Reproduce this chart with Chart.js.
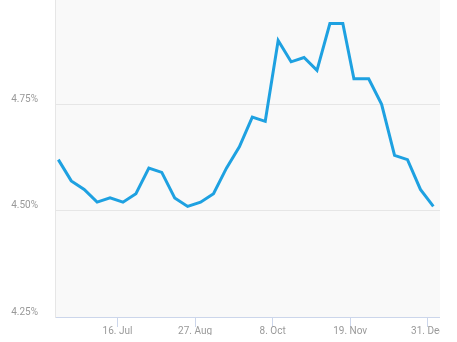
<!DOCTYPE html>
<html lang="en">
<head>
    <meta charset="UTF-8">
    <title>30-Year Fixed Rate 2018</title>
    <script src="https://cdn.jsdelivr.net/npm/chart.js"></script>
    <style>
        html, body {
            margin: 0;
            padding: 0;
            background: #fff;
        }
        #wrap {
            position: relative;
            width: 440px;
            height: 342px;
            overflow: hidden;
        }
        #rateChart {
            position: absolute;
            left: 0;
            top: -12px;
        }
    </style>
</head>
<body>
    <div id="wrap">
        <canvas id="rateChart" width="480" height="360"></canvas>
    </div>
    <script>
        // weekly rates, one per survey date
        const weeks = [
            '2018-06-14', '2018-06-21', '2018-06-28', '2018-07-05', '2018-07-12',
            '2018-07-19', '2018-07-26', '2018-08-02', '2018-08-09', '2018-08-16',
            '2018-08-23', '2018-08-30', '2018-09-06', '2018-09-13', '2018-09-20',
            '2018-09-27', '2018-10-04', '2018-10-11', '2018-10-18', '2018-10-25',
            '2018-11-01', '2018-11-08', '2018-11-15', '2018-11-21', '2018-11-29',
            '2018-12-06', '2018-12-13', '2018-12-20', '2018-12-27', '2019-01-03'
        ];
        const rates = [
            4.62, 4.57, 4.55, 4.52, 4.53,
            4.52, 4.54, 4.60, 4.59, 4.53,
            4.51, 4.52, 4.54, 4.60, 4.65,
            4.72, 4.71, 4.90, 4.85, 4.86,
            4.83, 4.94, 4.94, 4.81, 4.81,
            4.75, 4.63, 4.62, 4.55, 4.51
        ];

        // x axis ticks
        const tickDates = ['2018-07-16', '2018-08-27', '2018-10-08', '2018-11-19', '2018-12-31'];
        const tickLabels = ['16. Jul', '27. Aug', '8. Oct', '19. Nov', '31. Dec'];

        // y axis ticks
        const yTicks = [4.25, 4.50, 4.75];

        const toDay = s => new Date(s).getTime() / 864e5;
        const points = weeks.map((w, i) => ({ x: toDay(w), y: rates[i] }));
        const tickDays = tickDates.map(toDay);

        // light grey plot background
        const plotBg = {
            id: 'plotBg',
            beforeDraw(chart) {
                const a = chart.chartArea;
                const ctx = chart.ctx;
                ctx.save();
                ctx.fillStyle = '#f9f9f9';
                ctx.fillRect(a.left, a.top, a.right - a.left, a.bottom - a.top);
                ctx.restore();
            }
        };

        // labels may hang over the plot edges, don't let them shrink it
        const noPad = axis => {
            axis.paddingLeft = 0;
            axis.paddingRight = 0;
            axis.paddingTop = 0;
            axis.paddingBottom = 0;
        };

        const font = { family: 'Roboto, sans-serif', size: 10 };

        new Chart(document.getElementById('rateChart'), {
            type: 'line',
            data: {
                datasets: [{
                    data: points,
                    borderColor: '#1ea1e1',
                    borderWidth: 3,
                    pointRadius: 0,
                    tension: 0,
                    fill: false
                }]
            },
            options: {
                responsive: false,
                animation: false,
                layout: {
                    padding: { top: 10, right: 40, left: 0, bottom: 13 }
                },
                plugins: {
                    legend: { display: false },
                    tooltip: { enabled: false }
                },
                scales: {
                    x: {
                        type: 'linear',
                        min: toDay(weeks[0]) - 1.8,
                        max: toDay(weeks[weeks.length - 1]) + 3.6,
                        afterBuildTicks: axis => {
                            axis.ticks = tickDays.map(v => ({ value: v }));
                        },
                        afterFit: noPad,
                        grid: {
                            drawOnChartArea: false,
                            drawTicks: true,
                            tickLength: 10,
                            color: '#ccd6eb'
                        },
                        border: { display: true, color: '#ccd6eb' },
                        ticks: {
                            autoSkip: false,
                            maxRotation: 0,
                            padding: -2,
                            color: '#999',
                            font: font,
                            callback: v => tickLabels[tickDays.indexOf(v)]
                        }
                    },
                    y: {
                        min: 4.25,
                        max: 5.0,
                        afterBuildTicks: axis => {
                            axis.ticks = yTicks.map(v => ({ value: v }));
                        },
                        afterFit: axis => {
                            noPad(axis);
                            axis.width = 55;
                        },
                        grid: {
                            color: '#e6e6e6',
                            drawTicks: false
                        },
                        border: { display: true, color: '#e6e6e6' },
                        ticks: {
                            padding: 17,
                            labelOffset: -5,
                            color: '#999',
                            font: font,
                            callback: v => v.toFixed(2) + '%'
                        }
                    }
                }
            },
            plugins: [plotBg]
        });
    </script>
</body>
</html>
